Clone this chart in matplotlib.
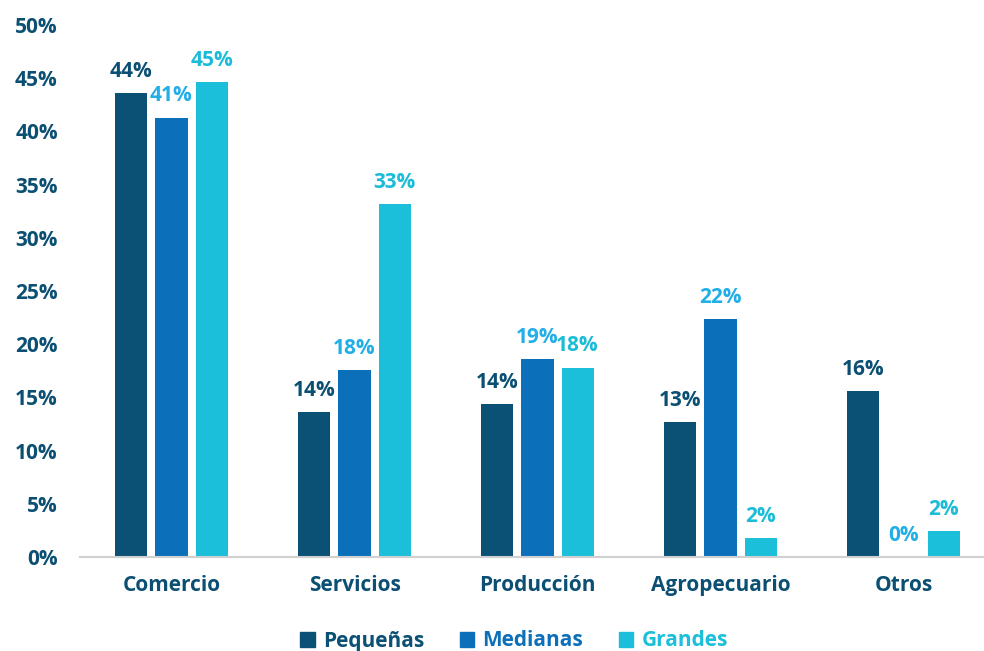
import matplotlib.pyplot as plt
import numpy as np
from matplotlib.patches import Patch

plt.rcParams['font.family'] = ['Open Sans', 'DejaVu Sans']
plt.rcParams['font.weight'] = 'bold'

# Participación por sector y tamaño de empresa (%)
categorias = ["Comercio", "Servicios", "Producción", "Agropecuario", "Otros"]
pequenas = [43.6, 13.6, 14.4, 12.7, 15.6]
medianas = [41.3, 17.6, 18.6, 22.4, 0.0]
grandes = [44.6, 33.2, 17.8, 1.8, 2.4]
series_nombres = ["Pequeñas", "Medianas", "Grandes"]

col_barras = ['#0b5075', '#0b70b9', '#1bbfd9']
col_etiquetas = ['#0b4f73', '#22aee6', '#1bbcd8']
col_texto = '#0b4f73'

fig = plt.figure(figsize=(9.84, 6.51), dpi=100)
ax = fig.add_axes([80 / 984, 94 / 651, 915 / 984, 532 / 651])

x = np.arange(len(categorias))
ancho = 0.175
paso = 0.219

for i, (vals, nombre) in enumerate(zip([pequenas, medianas, grandes], series_nombres)):
    pos = x + (i - 1) * paso
    ax.bar(pos, vals, width=ancho, color=col_barras[i], label=nombre)
    for px, v in zip(pos, vals):
        ax.annotate(f"{round(v)}%", (px, v), xytext=(0, 8), textcoords='offset points',
                    ha='center', va='bottom', fontsize=15, fontweight='bold',
                    color=col_etiquetas[i])

ax.set_xlim(-0.5, 4.5)
ax.set_ylim(0, 50)
ax.set_yticks(np.arange(0, 51, 5))
ax.set_yticklabels([f"{t}%" for t in range(0, 51, 5)])
ax.set_xticks(x)
ax.set_xticklabels(categorias)
ax.tick_params(axis='y', length=0, pad=16, labelsize=15, labelcolor=col_texto)
ax.tick_params(axis='x', length=0, pad=13, labelsize=15, labelcolor=col_texto)

for s in ['top', 'right', 'left']:
    ax.spines[s].set_visible(False)
ax.spines['bottom'].set_color('#d0d0d0')
ax.spines['bottom'].set_linewidth(1.5)

handles = [Patch(color=c) for c in col_barras]
leg = fig.legend(handles, series_nombres, loc='center', bbox_to_anchor=(514 / 984, 10 / 651),
                 ncol=3, frameon=False, fontsize=15, handlelength=0.7, handleheight=0.7,
                 handletextpad=0.4, columnspacing=1.7)
for t, c in zip(leg.get_texts(), col_barras):
    t.set_color(c)
    t.set_fontweight('bold')

fig.savefig('out.png', dpi=100)
